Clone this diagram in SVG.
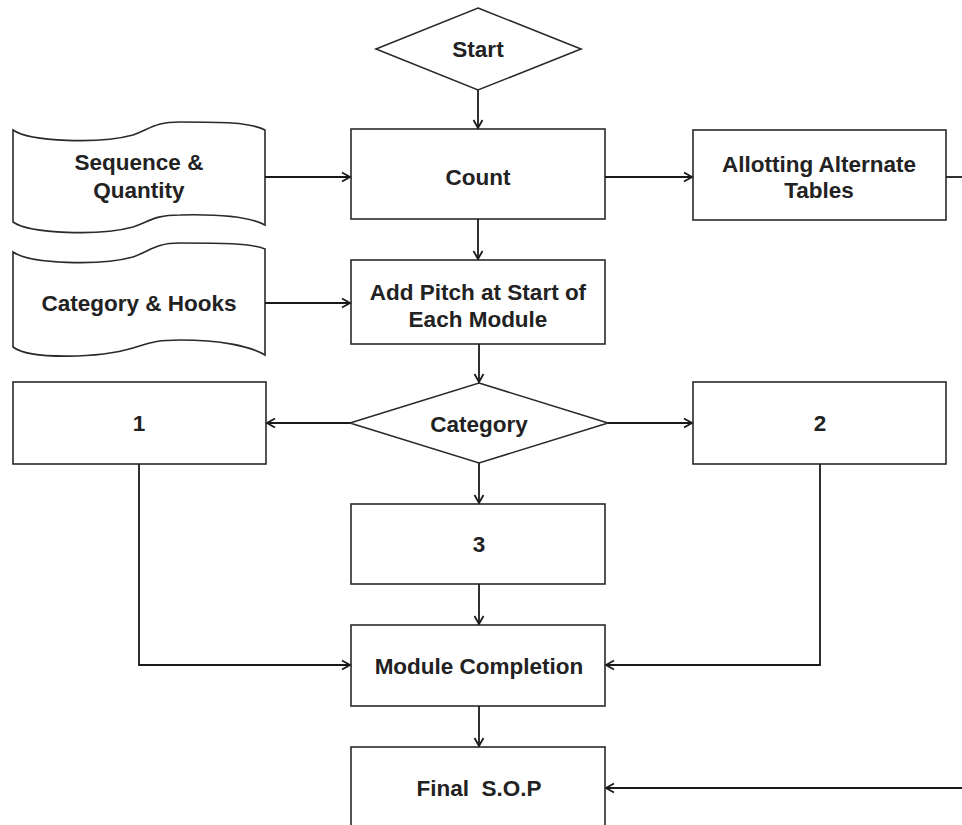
<svg xmlns="http://www.w3.org/2000/svg" width="962" height="825" viewBox="0 0 962 825">
<defs>
<marker id="arr" markerWidth="12" markerHeight="12" refX="10" refY="6" orient="auto" markerUnits="userSpaceOnUse">
<path d="M2,1.5 L10,6 L2,10.5" fill="none" stroke="#1a1a1a" stroke-width="1.8"/>
</marker>
<style>
.s{fill:#fff;stroke:#2a2a2a;stroke-width:1.6}
.t{font-family:"Liberation Sans",Arial,sans-serif;font-weight:bold;font-size:22.5px;fill:#222;text-anchor:middle;dominant-baseline:central}
.c{fill:none;stroke:#1a1a1a;stroke-width:1.8;marker-end:url(#arr)}
.l{fill:none;stroke:#1a1a1a;stroke-width:1.8}
</style>
</defs>
<rect width="962" height="825" fill="#fff"/>
<g id="start"><polygon class="s" points="478,8 581,49 478,90 376,49"/><text class="t" x="478" y="49">Start</text></g>
<g id="seq"><path class="s" d="M13,130 C30,142 100,144 133,135 C150,129 155,122 180,122 C220,122 250,122 265,130 L265,225 C250,217 220,214 180,215 C155,215 150,221 133,227 C100,236 30,234 13,222 Z"/><text class="t" x="139" y="162">Sequence &amp;</text><text class="t" x="139" y="190">Quantity</text></g>
<g id="count"><rect class="s" x="351" y="129" width="254" height="90"/><text class="t" x="478" y="177">Count</text></g>
<g id="allot"><rect class="s" x="693" y="130" width="253" height="90"/><text class="t" x="819" y="164">Allotting Alternate</text><text class="t" x="819" y="190">Tables</text></g>
<g id="cathooks"><path class="s" d="M13,252 C30,264 100,266 133,257 C150,251 155,243 180,243 C220,243 250,243 265,249 L265,355 C250,346 220,340 180,340 C155,340 150,343 133,348 C100,358 30,360 13,347 Z"/><text class="t" x="139" y="303">Category &amp; Hooks</text></g>
<g id="pitch"><rect class="s" x="351" y="260" width="254" height="84"/><text class="t" x="478" y="292">Add Pitch at Start of</text><text class="t" x="478" y="319">Each Module</text></g>
<g id="category"><polygon class="s" points="479,383 608,423 479,463 350,423"/><text class="t" x="479" y="424">Category</text></g>
<g id="b1"><rect class="s" x="13" y="382" width="253" height="82"/><text class="t" x="139" y="423">1</text></g>
<g id="b2"><rect class="s" x="693" y="382" width="253" height="82"/><text class="t" x="820" y="423">2</text></g>
<g id="b3"><rect class="s" x="351" y="504" width="254" height="80"/><text class="t" x="479" y="544">3</text></g>
<g id="module"><rect class="s" x="351" y="625" width="254" height="81"/><text class="t" x="479" y="666">Module Completion</text></g>
<g id="final"><rect class="s" x="351" y="747" width="254" height="100"/><text class="t" x="479" y="788">Final&#160; S.O.P</text></g>
<g id="connectors">
<path class="c" d="M478,90 L478,128"/>
<path class="c" d="M265,177 L350,177"/>
<path class="c" d="M605,177 L692,177"/>
<path class="l" d="M946,177 L962,177"/>
<path class="c" d="M478,219 L478,259"/>
<path class="c" d="M265,303 L350,303"/>
<path class="c" d="M479,344 L479,382"/>
<path class="c" d="M350,423 L267,423"/>
<path class="c" d="M608,423 L692,423"/>
<path class="c" d="M479,463 L479,503"/>
<path class="c" d="M139,464 L139,665 L350,665"/>
<path class="c" d="M820,464 L820,665 L606,665"/>
<path class="c" d="M479,584 L479,624"/>
<path class="c" d="M479,706 L479,746"/>
<path class="c" d="M962,788 L606,788"/>
</g>
</svg>
